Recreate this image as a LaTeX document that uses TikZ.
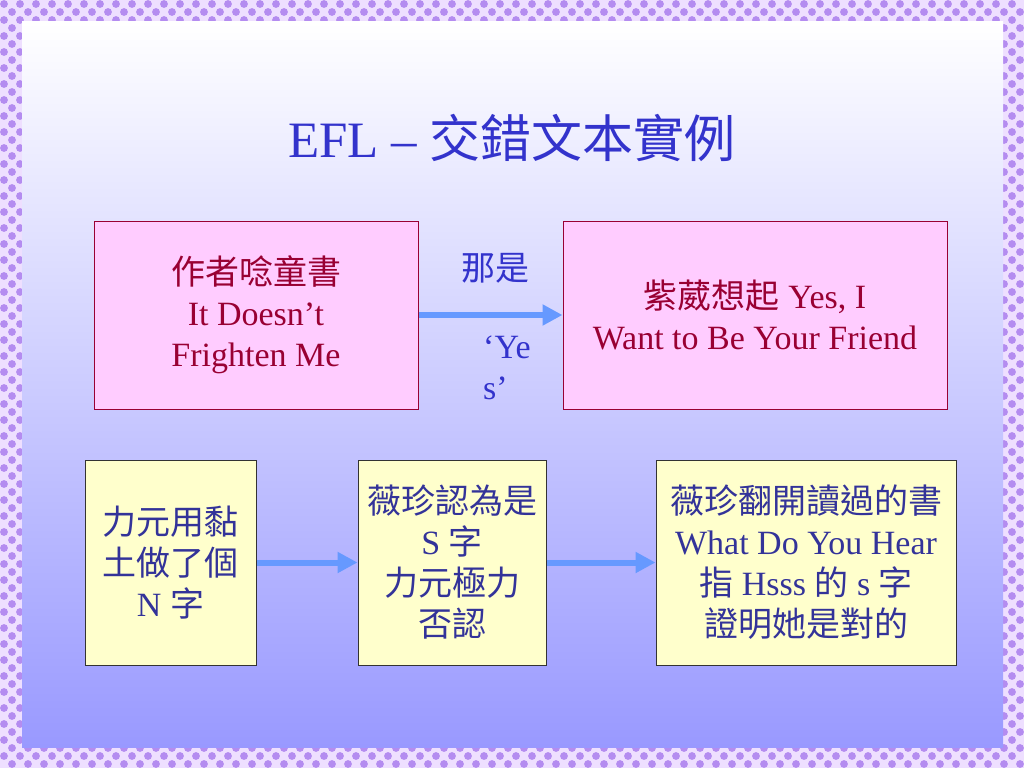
\documentclass[tikz,border=0pt]{standalone}
\usepackage{fontspec}
\setmainfont{Liberation Serif}
\newfontfamily\cjk{Noto Sans CJK TC}
\usetikzlibrary{arrows.meta}
\definecolor{bgpat}{HTML}{EEDFFF}
\definecolor{dotpat}{HTML}{B48CF0}
\definecolor{shbot}{HTML}{9999FF}
\definecolor{titleblue}{HTML}{3333CC}
\definecolor{redtext}{HTML}{990033}
\definecolor{bluetext}{HTML}{333399}
\definecolor{pinkfill}{HTML}{FFCCFF}
\definecolor{yellowfill}{HTML}{FFFFCC}
\definecolor{arrowblue}{HTML}{6699FF}
\tikzset{
  pinkbox/.style={draw=redtext, line width=1pt, fill=pinkfill, text=redtext, align=center,
    inner sep=0pt, font=\fontsize{34}{41}\selectfont},
  yellowbox/.style={draw=black!80, line width=1pt, fill=yellowfill, text=bluetext, align=center,
    inner sep=0pt, font=\fontsize{34}{41}\selectfont},
  flowarrow/.style={draw=arrowblue, line width=6pt, -{Triangle[length=20pt,width=20pt]}},
  lbl/.style={text=titleblue, inner sep=0pt, font=\fontsize{34}{41}\selectfont}
}
\begin{document}
\begin{tikzpicture}[x=1pt,y=-1pt]
\useasboundingbox (0,0) rectangle (1024,768);
\fill[bgpat] (0,0) rectangle (1024,768);
% checker pattern border
\foreach \i in {0,...,127}{
  \foreach \j in {0,1,2,93,94,95}{
    \pgfmathtruncatemacro{\pp}{mod(\i+\j,2)}
    \ifnum\pp=0 \fill[dotpat] (\i*8+4,\j*8+4) circle (3.9);\fi
  }
}
\foreach \j in {3,...,92}{
  \foreach \i in {0,1,2,125,126,127}{
    \pgfmathtruncatemacro{\pp}{mod(\i+\j,2)}
    \ifnum\pp=0 \fill[dotpat] (\i*8+4,\j*8+4) circle (3.9);\fi
  }
}
\shade[top color=white, bottom color=shbot] (22,22) rectangle (1003,747);

\node[text=titleblue, inner sep=0pt, font=\fontsize{51}{61}\selectfont] (title) at (512,138)
  {EFL – {\cjk 交錯文本實例}};

\node[pinkbox, minimum width=324pt, minimum height=188pt] (b1) at (256,315)
  {{\cjk 作者唸童書}\\It Doesn’t\\Frighten Me};
\node[pinkbox, minimum width=384pt, minimum height=188pt] (b2) at (755,315)
  {{\cjk 紫葳想起} Yes, I\\Want to Be Your Friend};

\node[yellowbox, minimum width=171pt, minimum height=205pt] (c1) at (170.5,562.5)
  {{\cjk 力元用黏}\\{\cjk 土做了個}\\N {\cjk 字}};
\node[yellowbox, minimum width=188pt, minimum height=205pt] (c2) at (452,562.5)
  {{\cjk 薇珍認為是}\\S {\cjk 字}\\{\cjk 力元極力}\\{\cjk 否認}};
\node[yellowbox, minimum width=300pt, minimum height=205pt] (c3) at (806,562.5)
  {{\cjk 薇珍翻開讀過的書}\\What Do You Hear\\{\cjk 指} Hsss {\cjk 的} s {\cjk 字}\\{\cjk 證明她是對的}};

\draw[flowarrow] (b1.east) -- (b2.west);
\draw[flowarrow] (c1.east) -- (c2.west);
\draw[flowarrow] (c2.east) -- (c3.west);

\node[lbl] (l1) at (495,268) {{\cjk 那是}};
\node[lbl, align=left, anchor=west] (l2) at (483,368) {‘Ye\\s’};
\end{tikzpicture}
\end{document}
